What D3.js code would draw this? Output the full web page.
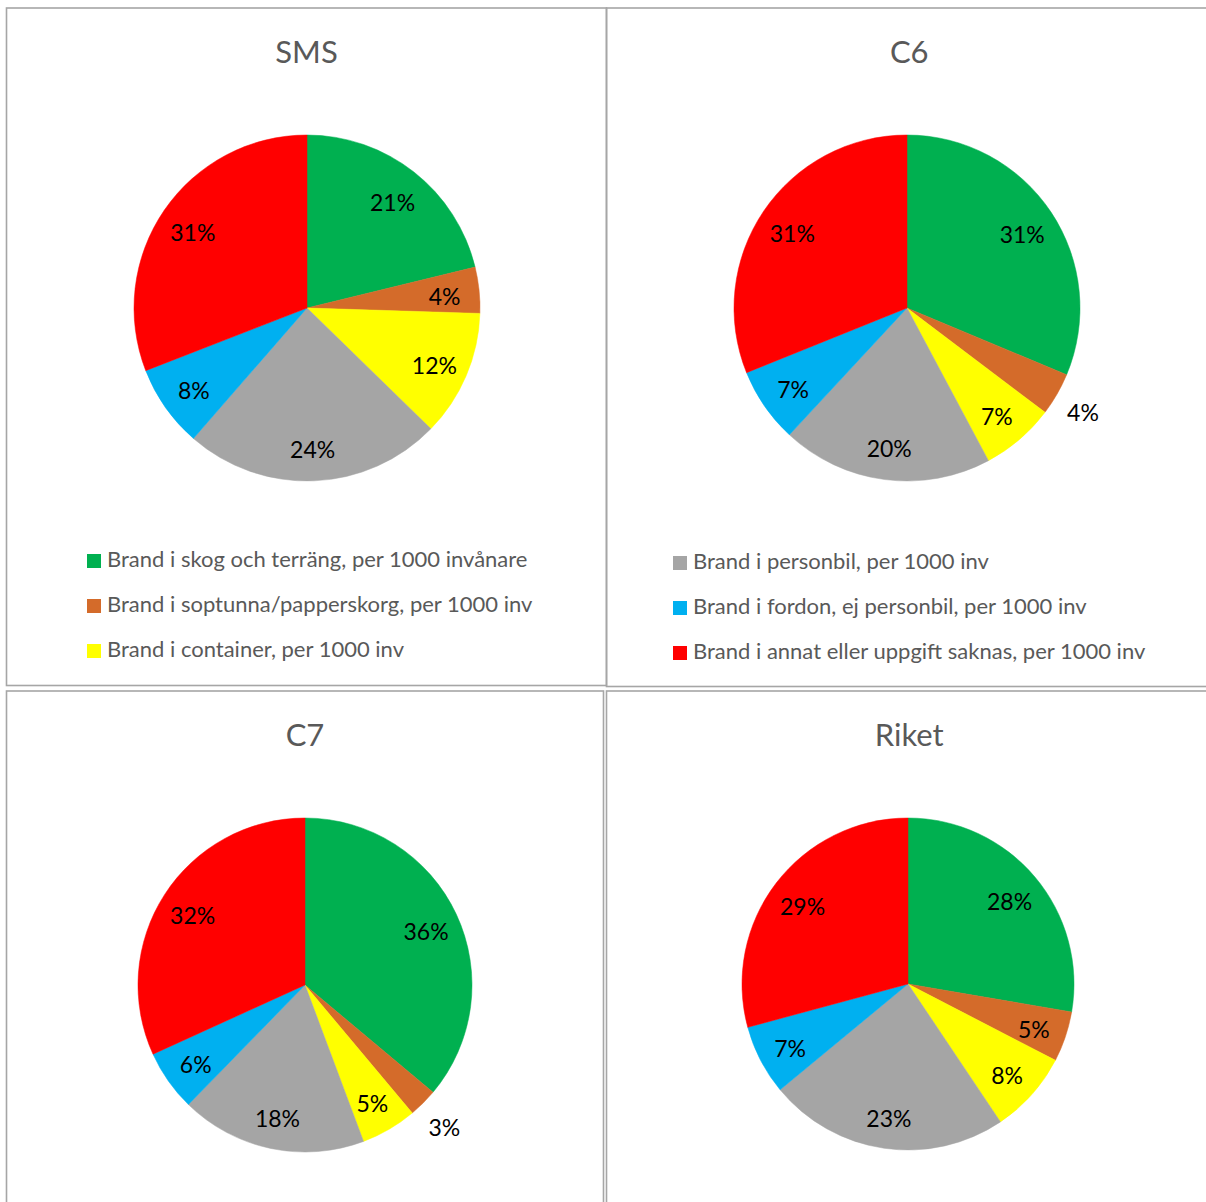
<!DOCTYPE html>
<html>
<head>
<meta charset="utf-8">
<script src="https://cdn.jsdelivr.net/npm/d3@7"></script>
<style>
  body { margin: 0; background: #fff; }
  text { font-family: Lato, "Open Sans", sans-serif; }
</style>
</head>
<body>
<div id="vis"></div>
<script>
const WIDTH = 1206;
const HEIGHT = 1202;

// kategorier och färger (samma ordning i alla diagram, medurs från kl 12)
const categories = [
    "Brand i skog och terräng, per 1000 invånare",
    "Brand i soptunna/papperskorg, per 1000 inv",
    "Brand i container, per 1000 inv",
    "Brand i personbil, per 1000 inv",
    "Brand i fordon, ej personbil, per 1000 inv",
    "Brand i annat eller uppgift saknas, per 1000 inv"
];
const colors = ["#00B050", "#D46B2A", "#FFFF00", "#A5A5A5", "#00B0F0", "#FF0000"];

// andelar i procent
const titles = ["SMS", "C6", "C7", "Riket"];
const smsValues = [21.2, 4.3, 11.8, 24.1, 7.7, 30.9];
const c6Values = [31.3, 4.0, 6.9, 19.7, 7.0, 31.1];
const c7Values = [36.1, 2.8, 5.4, 18.0, 5.9, 31.8];
const riketValues = [27.7, 4.9, 8.0, 23.4, 6.8, 29.2];
const allValues = [smsValues, c6Values, c7Values, riketValues];

// vilka kategorier som syns i respektive ruta
const legendItems = [[0, 1, 2], [3, 4, 5], [], []];

// rutor: x0, y0, x1, y1, pie cx, cy, r, rubrik-baslinje, legend-x, legend-baslinje
const panels = [
    { x0: 6.5, y0: 8, x1: 606.5, y1: 685.5, cx: 307, cy: 308, r: 173, ty: 63, lx: 87, ly: 567 },
    { x0: 606.5, y0: 8, x1: 1212, y1: 686.5, cx: 907, cy: 308, r: 173, ty: 63, lx: 673, ly: 569 },
    { x0: 6.5, y0: 691, x1: 603.5, y1: 1212, cx: 305, cy: 985, r: 167, ty: 746, lx: 87, ly: 1250 },
    { x0: 606.5, y0: 691, x1: 1212, y1: 1212, cx: 908, cy: 984, r: 166, ty: 746, lx: 673, ly: 1250 }
];

const svg = d3.select("#vis").append("svg")
    .attr("width", WIDTH)
    .attr("height", HEIGHT);

const color = d3.scaleOrdinal().domain(d3.range(categories.length)).range(colors);
const pie = d3.pie().sort(null).value(d => d);
const pct = d3.format(".0%");

panels.forEach((p, k) => {
    const g = svg.append("g");

    g.append("rect")
        .attr("x", p.x0)
        .attr("y", p.y0)
        .attr("width", p.x1 - p.x0)
        .attr("height", p.y1 - p.y0)
        .attr("fill", "none")
        .attr("stroke", "#A6A6A6")
        .attr("stroke-width", 1.6);

    g.append("text")
        .attr("x", (p.x0 + p.x1) / 2)
        .attr("y", p.ty)
        .attr("text-anchor", "middle")
        .attr("fill", "#595959")
        .style("font-size", "31px")
        .text(titles[k]);

    const values = allValues[k];
    const total = d3.sum(values);
    const arcs = pie(values);

    const arc = d3.arc().innerRadius(0).outerRadius(p.r);
    const labelIn = d3.arc().innerRadius(p.r * 0.8).outerRadius(p.r * 0.8);
    const labelOut = d3.arc().innerRadius(p.r + 30).outerRadius(p.r + 30);

    const pg = g.append("g")
        .attr("transform", `translate(${p.cx},${p.cy})`);

    pg.selectAll("path")
        .data(arcs)
        .join("path")
        .attr("d", arc)
        .attr("fill", (d, i) => color(i))
        .attr("stroke", (d, i) => color(i))
        .attr("stroke-width", 0.5);

    // små andelar hamnar utanför cirkeln
    pg.selectAll("text")
        .data(arcs)
        .join("text")
        .attr("transform", d => {
            const share = d.value / total;
            const c = share < 0.042 ? labelOut.centroid(d) : labelIn.centroid(d);
            return `translate(${c[0]},${c[1]})`;
        })
        .attr("text-anchor", "middle")
        .attr("dy", "0.5em")
        .attr("fill", "#000")
        .style("font-size", "23px")
        .text(d => pct(d.value / total));

    // legend
    const lg = g.append("g");
    const rows = lg.selectAll("g")
        .data(legendItems[k])
        .join("g")
        .attr("transform", (d, i) => `translate(${p.lx},${p.ly + i * 45})`);

    rows.append("rect")
        .attr("x", 0)
        .attr("y", -13)
        .attr("width", 14)
        .attr("height", 14)
        .attr("fill", d => color(d));

    rows.append("text")
        .attr("x", 20)
        .attr("y", 0)
        .attr("fill", "#595959")
        .style("font-size", "22px")
        .text(d => categories[d]);
});
</script>
</body>
</html>
